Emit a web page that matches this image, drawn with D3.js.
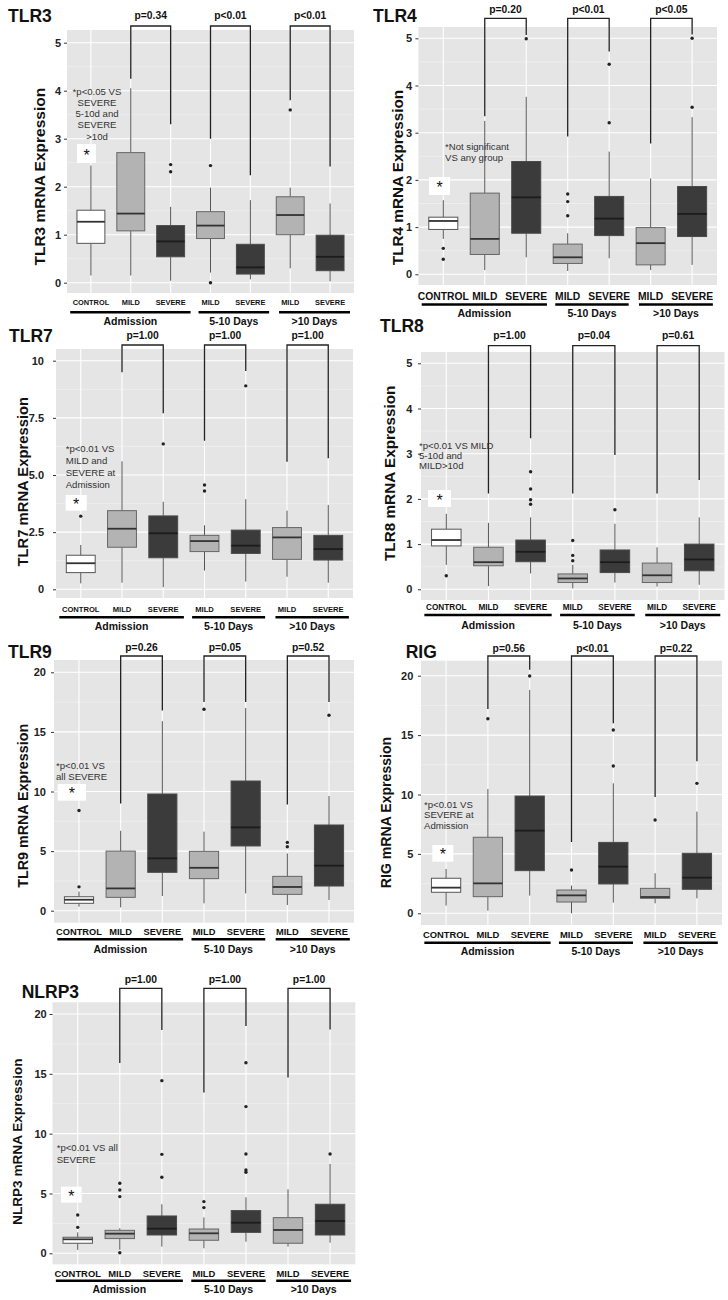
<!DOCTYPE html>
<html>
<head>
<meta charset="utf-8">
<script src="https://cdn.jsdelivr.net/npm/d3@7"></script>
<style>
  body { margin: 0; background: #fff; }
  text { font-family: "Liberation Sans", Arial, sans-serif; }
</style>
</head>
<body>
<script>
// ---------------- DATA ----------------
const categories = ["CONTROL", "MILD", "SEVERE", "MILD", "SEVERE", "MILD", "SEVERE"];
const groupLabels = ["Admission", "5-10 Days", ">10 Days"];
const severity = ["control", "mild", "severe", "mild", "severe", "mild", "severe"];

// box stats: [lower whisker, Q1, median, Q3, upper whisker]
const tlr3Box = [[0.15,0.82,1.27,1.51,2.44],[0.15,1.08,1.44,2.71,4.05],[0.04,0.54,0.86,1.19,1.58],[0.21,0.92,1.19,1.48,1.98],[0.07,0.18,0.32,0.80,1.72],[0.30,1.00,1.41,1.79,1.98],[0.03,0.25,0.54,0.99,1.65]];
const tlr3Out = [[],[],[2.31,2.46],[0.0,2.44],[],[3.6],[]];
const tlr3P = ["p=0.34","p<0.01","p<0.01"];
const tlr3Bracket = [[4.25,3.3],[3.0,2.24],[3.8,2.42]];
const tlr3Ticks = [0,1,2,3,4,5];
const tlr3TickLabels = ["0","1","2","3","4","5"];
const tlr3Note = ["*p<0.05 VS","SEVERE","5-10d and","SEVERE",">10d"];

const tlr4Box = [[0.75,0.95,1.13,1.21,1.57],[0.09,0.42,0.75,1.72,3.25],[0.36,0.87,1.63,2.39,3.76],[0.07,0.23,0.36,0.64,0.87],[0.34,0.82,1.18,1.65,2.60],[0.09,0.20,0.66,0.99,2.03],[0.20,0.80,1.28,1.86,3.33]];
const tlr4Out = [[0.32,0.55],[],[4.99],[1.24,1.54,1.70],[3.21,4.45],[],[3.54,5.0]];
const tlr4P = ["p=0.20","p<0.01","p<0.05"];
const tlr4Bracket = [[3.35,5.07],[2.92,4.72],[2.77,5.08]];
const tlr4Ticks = [0,1,2,3,4,5];
const tlr4TickLabels = ["0","1","2","3","4","5"];
const tlr4Note = ["*Not significant","VS any group"];

const tlr7Box = [[0.26,0.73,1.14,1.49,1.94],[0.29,1.84,2.65,3.44,5.60],[0.09,1.38,2.45,3.21,3.83],[0.82,1.65,2.11,2.36,2.80],[0.34,1.57,1.91,2.59,3.94],[0.55,1.31,2.27,2.70,3.44],[0.29,1.28,1.76,2.36,3.69]];
const tlr7Out = [[3.2],[],[6.36],[4.30,4.56],[8.9],[],[]];
const tlr7P = ["p=1.00","p=1.00","p=1.00"];
const tlr7Bracket = [[9.5,7.7],[6.5,9.55],[5.58,5.73]];
const tlr7Ticks = [0,2.5,5,7.5,10];
const tlr7TickLabels = ["0","2.5","5.0","7.5","10"];
const tlr7Note = ["*p<0.01 VS","MILD and","SEVERE at","Admission"];

const tlr8Box = [[0.54,0.96,1.09,1.33,1.67],[0.07,0.52,0.60,0.93,1.47],[0.35,0.61,0.83,1.09,1.59],[0.02,0.15,0.24,0.34,0.54],[0.15,0.37,0.60,0.87,1.45],[0.06,0.15,0.31,0.58,0.93],[0.10,0.41,0.66,1.00,1.59]];
const tlr8Out = [[0.3],[],[1.88,1.98,2.22,2.60],[0.63,0.75,1.08],[1.76],[],[]];
const tlr8P = ["p=1.00","p=0.04","p=0.61"];
const tlr8Bracket = [[2.12,3.34],[2.12,2.97],[2.12,2.42]];
const tlr8Ticks = [0,1,2,3,4,5];
const tlr8TickLabels = ["0","1","2","3","4","5"];
const tlr8Note = ["*p<0.01 VS MILD","5-10d and","MILD>10d"];

const tlr9Box = [[0.34,0.62,0.92,1.17,1.60],[0.28,1.12,1.87,5.00,6.70],[1.23,3.22,4.39,9.79,15.9],[0.62,2.69,3.60,4.98,6.63],[1.45,5.43,6.99,10.88,17.0],[0.48,1.37,1.99,2.88,4.80],[0.90,2.07,3.78,7.19,9.62]];
const tlr9Out = [[2.0,8.4],[],[],[16.9],[],[5.37,5.73],[16.4]];
const tlr9P = ["p=0.26","p=0.05","p=0.52"];
const tlr9Bracket = [[9.0,16.8],[17.5,17.5],[8.9,17.5]];
const tlr9Ticks = [0,5,10,15,20];
const tlr9TickLabels = ["0","5","10","15","20"];
const tlr9Note = ["*p<0.01 VS","all SEVERE"];

const rigBox = [[0.65,1.77,2.16,2.95,3.73],[0.22,1.40,2.52,6.40,10.46],[1.49,3.59,6.96,9.87,18.8],[0.0,0.95,1.51,1.96,2.33],[0.90,2.47,3.93,5.97,10.94],[0.84,1.26,1.37,2.10,3.37],[1.26,2.02,3.00,5.05,8.56]];
const rigOut = [[],[16.38],[19.97],[3.65],[12.4,15.43],[7.85],[10.94]];
const rigP = ["p=0.56","p<0.01","p=0.22"];
const rigBracket = [[17.2,20.5],[6.0,16.0],[9.8,12.8]];
const rigTicks = [0,5,10,15,20];
const rigTickLabels = ["0","5","10","15","20"];
const rigNote = ["*p<0.01 VS","SEVERE at","Admission"];

const nlrp3Box = [[0.28,0.84,1.17,1.34,1.75],[0.30,1.23,1.64,1.92,2.09],[0.56,1.53,2.06,3.12,4.10],[0.42,1.09,1.67,2.03,3.00],[0.97,1.75,2.56,3.57,4.68],[0.56,0.84,1.95,2.98,5.35],[0.89,1.53,2.70,4.10,7.47]];
const nlrp3Out = [[2.17,3.2],[0.05,4.74,5.29,5.85],[6.35,8.27,14.43],[3.82,4.32],[6.77,6.96,8.3,12.26,15.93],[],[8.3]];
const nlrp3P = ["p=1.00","p=1.00","p=1.00"];
const nlrp3Bracket = [[15.9,18.66],[13.43,19.0],[14.7,18.7]];
const nlrp3Ticks = [0,5,10,15,20];
const nlrp3TickLabels = ["0","5","10","15","20"];
const nlrp3Note = ["*p<0.01 VS all","SEVERE"];

// ---------------- LAYOUT ----------------
const panels = [
  {name:"TLR3", box:tlr3Box, out:tlr3Out, p:tlr3P, br:tlr3Bracket, ticks:tlr3Ticks, tickLabels:tlr3TickLabels, note:tlr3Note,
   L:{left:67,right:354,top:30,bottom:293,y0:282.7,yT:42.7,titleX:8,titleY:22,tickLabelX:61,yTitleX:39,yTitleY:176.7,yTitleSize:15.5,
      pY:19,brTop:26,xlabY:305,xlabSize:7.4,ulY:312.3,grpY:325,
      noteX:97,noteY:94.5,noteLH:11.3,noteAnchor:"middle",star:[77,144,19,19]}},
  {name:"TLR4", box:tlr4Box, out:tlr4Out, p:tlr4P, br:tlr4Bracket, ticks:tlr4Ticks, tickLabels:tlr4TickLabels, note:tlr4Note,
   L:{left:418.4,right:717,top:27,bottom:285,y0:274.3,yT:38.3,titleX:373,titleY:22,tickLabelX:412,yTitleX:397,yTitleY:177.5,yTitleSize:15.3,
      pY:12.5,brTop:18.3,xlabY:300,xlabSize:10.3,ulY:304.5,grpY:316.5,
      noteX:445,noteY:149.5,noteLH:11,noteAnchor:"start",star:[429,177,21,18]}},
  {name:"TLR7", box:tlr7Box, out:tlr7Out, p:tlr7P, br:tlr7Bracket, ticks:tlr7Ticks, tickLabels:tlr7TickLabels, note:tlr7Note,
   L:{left:56,right:353,top:349,bottom:598,y0:589.3,yT:360.7,titleX:9,titleY:342,tickLabelX:44,yTitleX:22.7,yTitleY:481.7,yTitleSize:14.8,
      pY:339.3,brTop:345,xlabY:611.7,xlabSize:7.6,ulY:617.3,grpY:630,
      noteX:65.7,noteY:451.5,noteLH:12,noteAnchor:"start",star:[65.7,495,21,15.7]}},
  {name:"TLR8", box:tlr8Box, out:tlr8Out, p:tlr8P, br:tlr8Bracket, ticks:tlr8Ticks, tickLabels:tlr8TickLabels, note:tlr8Note,
   L:{left:421,right:724.5,top:352,bottom:600,y0:589.3,yT:363.3,titleX:380,titleY:332,tickLabelX:412.3,yTitleX:389,yTitleY:473.3,yTitleSize:15.3,
      pY:339.3,brTop:345.7,xlabY:610,xlabSize:8.2,ulY:615,grpY:629,
      noteX:419,noteY:449,noteLH:10,noteAnchor:"start",star:[428,490,23,17]}},
  {name:"TLR9", box:tlr9Box, out:tlr9Out, p:tlr9P, br:tlr9Bracket, ticks:tlr9Ticks, tickLabels:tlr9TickLabels, note:tlr9Note,
   L:{left:54,right:354,top:660,bottom:922.7,y0:910.7,yT:672.3,titleX:8,titleY:657.5,tickLabelX:46,yTitleX:23.3,yTitleY:805.8,yTitleSize:14.3,
      pY:650.7,brTop:656,xlabY:935,xlabSize:9.3,ulY:939.3,grpY:952.7,
      noteX:56,noteY:768.5,noteLH:11.7,noteAnchor:"start",star:[57.7,784,28.3,16.7]}},
  {name:"RIG", box:rigBox, out:rigOut, p:rigP, br:rigBracket, ticks:rigTicks, tickLabels:rigTickLabels, note:rigNote,
   L:{left:421,right:722,top:660.7,bottom:925,y0:913.3,yT:675.7,titleX:405.7,titleY:658.3,tickLabelX:413.3,yTitleX:385.7,yTitleY:812.5,yTitleSize:14.1,
      pY:651.7,brTop:656,xlabY:938,xlabSize:9.4,ulY:942.7,grpY:955,
      noteX:424,noteY:807.5,noteLH:10.7,noteAnchor:"start",star:[432.3,845,21,16.7]}},
  {name:"NLRP3", box:nlrp3Box, out:nlrp3Out, p:nlrp3P, br:nlrp3Bracket, ticks:nlrp3Ticks, tickLabels:nlrp3TickLabels, note:nlrp3Note,
   L:{left:52.5,right:355.3,top:1002.3,bottom:1264.3,y0:1253.3,yT:1014,titleX:21.7,titleY:998.3,tickLabelX:46.7,yTitleX:16.7,yTitleY:1141.7,yTitleSize:13.6,
      pY:983.3,brTop:988.3,xlabY:1276.7,xlabSize:9.4,ulY:1280.7,grpY:1292.7,
      noteX:56.7,noteY:1150.8,noteLH:12,noteAnchor:"start",star:[61,1186.7,20.7,16]}}
];

const fills = {control:"#ffffff", mild:"#b3b3b3", severe:"#3b3b3b"};
const strokes = {control:"#555", mild:"#666", severe:"#4a4a4a"};
const medians = {control:"#333", mild:"#333", severe:"#1c1c1c"};

const svg = d3.select("body").append("svg").attr("width", 728).attr("height", 1300);

panels.forEach(P => {
  const L = P.L;
  const g = svg.append("g").attr("class", "panel-" + P.name);
  const x = d3.scalePoint().domain(d3.range(categories.length)).range([L.left, L.right]).padding(0.6);
  const step = x.step();
  const topTick = P.ticks[P.ticks.length - 1];
  const y = d3.scaleLinear().domain([0, topTick]).range([L.y0, L.yT]);
  const bw = step * 0.7;

  // panel background
  g.append("rect").attr("x", L.left).attr("y", L.top)
    .attr("width", L.right - L.left).attr("height", L.bottom - L.top).attr("fill", "#e5e5e5");

  // grid
  const dMinor = (P.ticks[1] - P.ticks[0]) / 2;
  const yMin = y.invert(L.bottom), yMax = y.invert(L.top);
  const minors = [];
  for (let v = P.ticks[0] - dMinor; v <= yMax; v += 2 * dMinor) if (v >= yMin) minors.push(v);
  g.selectAll(".minor").data(minors).join("line")
    .attr("x1", L.left).attr("x2", L.right).attr("y1", d => y(d)).attr("y2", d => y(d))
    .attr("stroke", "#f4f4f4").attr("stroke-width", 0.6);
  g.selectAll(".major").data(P.ticks).join("line")
    .attr("x1", L.left).attr("x2", L.right).attr("y1", d => y(d)).attr("y2", d => y(d))
    .attr("stroke", "#fff").attr("stroke-width", 1.1);
  g.selectAll(".vgrid").data(d3.range(categories.length)).join("line")
    .attr("x1", d => x(d)).attr("x2", d => x(d)).attr("y1", L.top).attr("y2", L.bottom)
    .attr("stroke", "#fff").attr("stroke-width", 1.1);

  // boxes
  P.box.forEach((b, i) => {
    const cx = x(i), s = severity[i];
    g.append("line").attr("x1", cx).attr("x2", cx).attr("y1", y(b[0])).attr("y2", y(b[1]))
      .attr("stroke", "#555").attr("stroke-width", 1);
    g.append("line").attr("x1", cx).attr("x2", cx).attr("y1", y(b[3])).attr("y2", y(b[4]))
      .attr("stroke", "#555").attr("stroke-width", 1);
    g.append("rect").attr("x", cx - bw / 2).attr("y", y(b[3])).attr("width", bw)
      .attr("height", y(b[1]) - y(b[3])).attr("fill", fills[s]).attr("stroke", strokes[s]).attr("stroke-width", 1);
    g.append("line").attr("x1", cx - bw / 2).attr("x2", cx + bw / 2).attr("y1", y(b[2])).attr("y2", y(b[2]))
      .attr("stroke", medians[s]).attr("stroke-width", 1.8);
    g.selectAll(".o" + i).data(P.out[i]).join("circle")
      .attr("cx", cx).attr("cy", d => y(d)).attr("r", 1.7).attr("fill", "#222");
  });

  // brackets and p-values
  P.br.forEach((br, k) => {
    const xl = x(3 + 2 * (k) - 2 + 0) ; // placeholder (overwritten below)
  });
  const pairs = [[1, 2], [3, 4], [5, 6]];
  pairs.forEach((pr, k) => {
    const xa = x(pr[0]), xb = x(pr[1]);
    g.append("path")
      .attr("d", `M${xa},${y(P.br[k][0])}V${L.brTop}H${xb}V${y(P.br[k][1])}`)
      .attr("fill", "none").attr("stroke", "#222").attr("stroke-width", 1.3);
    g.append("text").attr("x", (xa + xb) / 2).attr("y", L.pY).attr("text-anchor", "middle")
      .attr("font-size", 10.3).attr("font-weight", "bold").attr("fill", "#111").text(P.p[k]);
  });

  // note
  const nt = g.append("text").attr("x", L.noteX).attr("y", L.noteY).attr("text-anchor", L.noteAnchor)
    .attr("font-size", 9.6).attr("fill", "#333");
  P.note.forEach((line, j) => {
    nt.append("tspan").attr("x", L.noteX).attr("y", L.noteY + j * L.noteLH).text(line);
  });
  // star box
  g.append("rect").attr("x", L.star[0]).attr("y", L.star[1]).attr("width", L.star[2]).attr("height", L.star[3]).attr("fill", "#fff");
  g.append("text").attr("x", L.star[0] + L.star[2] / 2).attr("y", L.star[1] + L.star[3] / 2 + 7)
    .attr("text-anchor", "middle").attr("font-size", 16).attr("fill", "#111").text("*");

  // y axis
  const axis = d3.axisLeft(y).tickValues(P.ticks).tickFormat((d, i) => P.tickLabels[i])
    .tickSize(3).tickPadding(L.left - L.tickLabelX - 3);
  const ag = g.append("g").attr("transform", `translate(${L.left},0)`).call(axis);
  ag.select(".domain").remove();
  ag.selectAll(".tick line").attr("stroke", "#333");
  ag.selectAll(".tick text").attr("font-size", 11).attr("font-weight", "bold").attr("fill", "#222")
    .attr("font-family", "'Liberation Sans', Arial, sans-serif");

  // title and y title
  g.append("text").attr("x", L.titleX).attr("y", L.titleY).attr("font-size", 17.5).attr("font-weight", "bold")
    .attr("fill", "#111").text(P.name);
  g.append("text").attr("transform", `translate(${L.yTitleX + L.yTitleSize * 0.36},${L.yTitleY}) rotate(-90)`)
    .attr("text-anchor", "middle").attr("font-size", L.yTitleSize).attr("font-weight", "bold").attr("fill", "#111")
    .text(P.name + " mRNA Expression");

  // x labels
  g.selectAll(".xl").data(categories).join("text")
    .attr("x", (d, i) => x(i)).attr("y", L.xlabY).attr("text-anchor", "middle")
    .attr("font-size", L.xlabSize).attr("font-weight", "bold").attr("fill", "#111").text(d => d);

  // group underlines and labels
  const spans = [[x(0) - 0.52 * step, x(2) + 0.5 * step], [x(3) - 0.3 * step, x(4) + 0.47 * step], [x(5) - 0.28 * step, x(6) + 0.5 * step]];
  spans.forEach((sp, k) => {
    g.append("line").attr("x1", sp[0]).attr("x2", sp[1]).attr("y1", L.ulY).attr("y2", L.ulY)
      .attr("stroke", "#000").attr("stroke-width", 2.6);
    g.append("text").attr("x", (sp[0] + sp[1]) / 2).attr("y", L.grpY).attr("text-anchor", "middle")
      .attr("font-size", 10.5).attr("font-weight", "bold").attr("fill", "#111").text(groupLabels[k]);
  });
});
</script>
</body>
</html>
